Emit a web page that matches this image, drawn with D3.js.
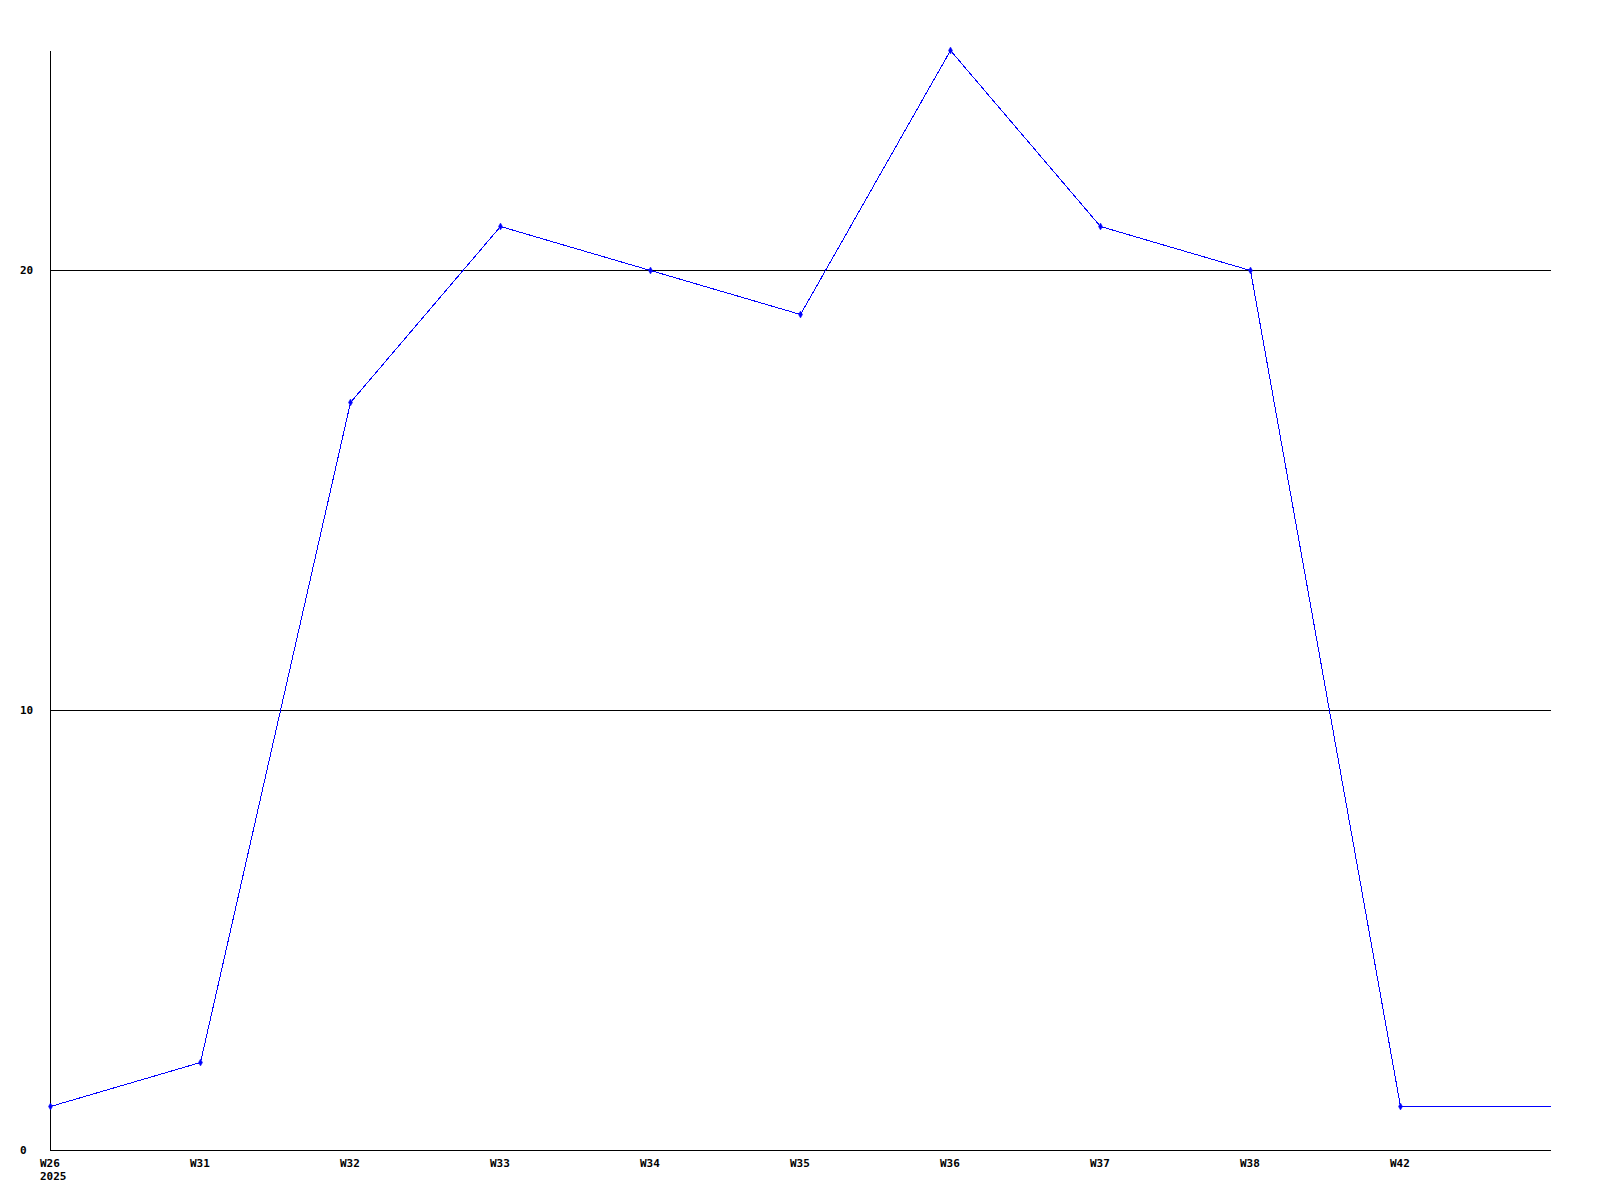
<!DOCTYPE html>
<html>
<head>
<meta charset="utf-8">
<script src="https://cdn.jsdelivr.net/npm/d3@7"></script>
<style>
html,body{margin:0;padding:0;background:#fff;}
svg{display:block;}
text{font-family:"DejaVu Sans Mono","Liberation Mono",monospace;font-weight:bold;font-size:11px;fill:#000;}
</style>
</head>
<body>
<svg id="chart" width="1600" height="1200"></svg>
<script>
const categories = ["W26","W31","W32","W33","W34","W35","W36","W37","W38","W42","W43"];
const tickLabels = ["W26","W31","W32","W33","W34","W35","W36","W37","W38","W42"];
const yearLabel = "2025";
const values = [1,2,17,21,20,19,25,21,20,1,1];
const yTicks = [0,10,20];

(function(){
const svg = d3.select("#chart");
const mLeft = 50, mRight = 1550, mTop = 50, mBottom = 1150;

const x = d3.scalePoint().domain(categories).range([mLeft, mRight]);
const y = d3.scaleLinear().domain([0, 25]).range([mBottom, mTop]);

const g = svg.append("g").attr("transform","translate(0.5,0.5)");

// grid lines
g.selectAll("line.grid").data(yTicks.filter(d=>d>0)).enter().append("line")
  .attr("x1", mLeft).attr("x2", mRight)
  .attr("y1", d=>Math.round(y(d))).attr("y2", d=>Math.round(y(d)))
  .attr("stroke","#000").attr("stroke-width",1).attr("shape-rendering","crispEdges");

// axes lines
g.append("line").attr("x1",mLeft).attr("x2",mLeft).attr("y1",mTop).attr("y2",mBottom)
  .attr("stroke","#000").attr("shape-rendering","crispEdges");
g.append("line").attr("x1",mLeft).attr("x2",mRight).attr("y1",mBottom).attr("y2",mBottom)
  .attr("stroke","#000").attr("shape-rendering","crispEdges");

// y labels
svg.selectAll("text.ylab").data(yTicks).enter().append("text")
  .attr("x", 20).attr("y", d=>Math.round(y(d))+4)
  .text(d=>d);

// x labels
svg.selectAll("text.xlab").data(tickLabels).enter().append("text")
  .attr("x", d=>x(d)-10).attr("y", mBottom+17)
  .text(d=>d);
svg.append("text").attr("x", x(categories[0])-10).attr("y", mBottom+30).text(yearLabel);

// line
const line = d3.line().x((d,i)=>x(categories[i])).y(d=>Math.round(y(d)));
g.append("path").datum(values).attr("d", line)
  .attr("fill","none").attr("stroke","#0000ff").attr("stroke-width",1)
  .attr("shape-rendering","crispEdges");

// markers
g.selectAll("path.mark").data(values.slice(0, values.length-1)).enter().append("path")
  .attr("d", d3.symbol().type(d3.symbolDiamond).size(14))
  .attr("transform",(d,i)=>`translate(${x(categories[i])},${Math.round(y(d))})`)
  .attr("fill","#0000ff").attr("stroke","#0000ff").attr("stroke-width",0.5);
})();
</script>
</body>
</html>
